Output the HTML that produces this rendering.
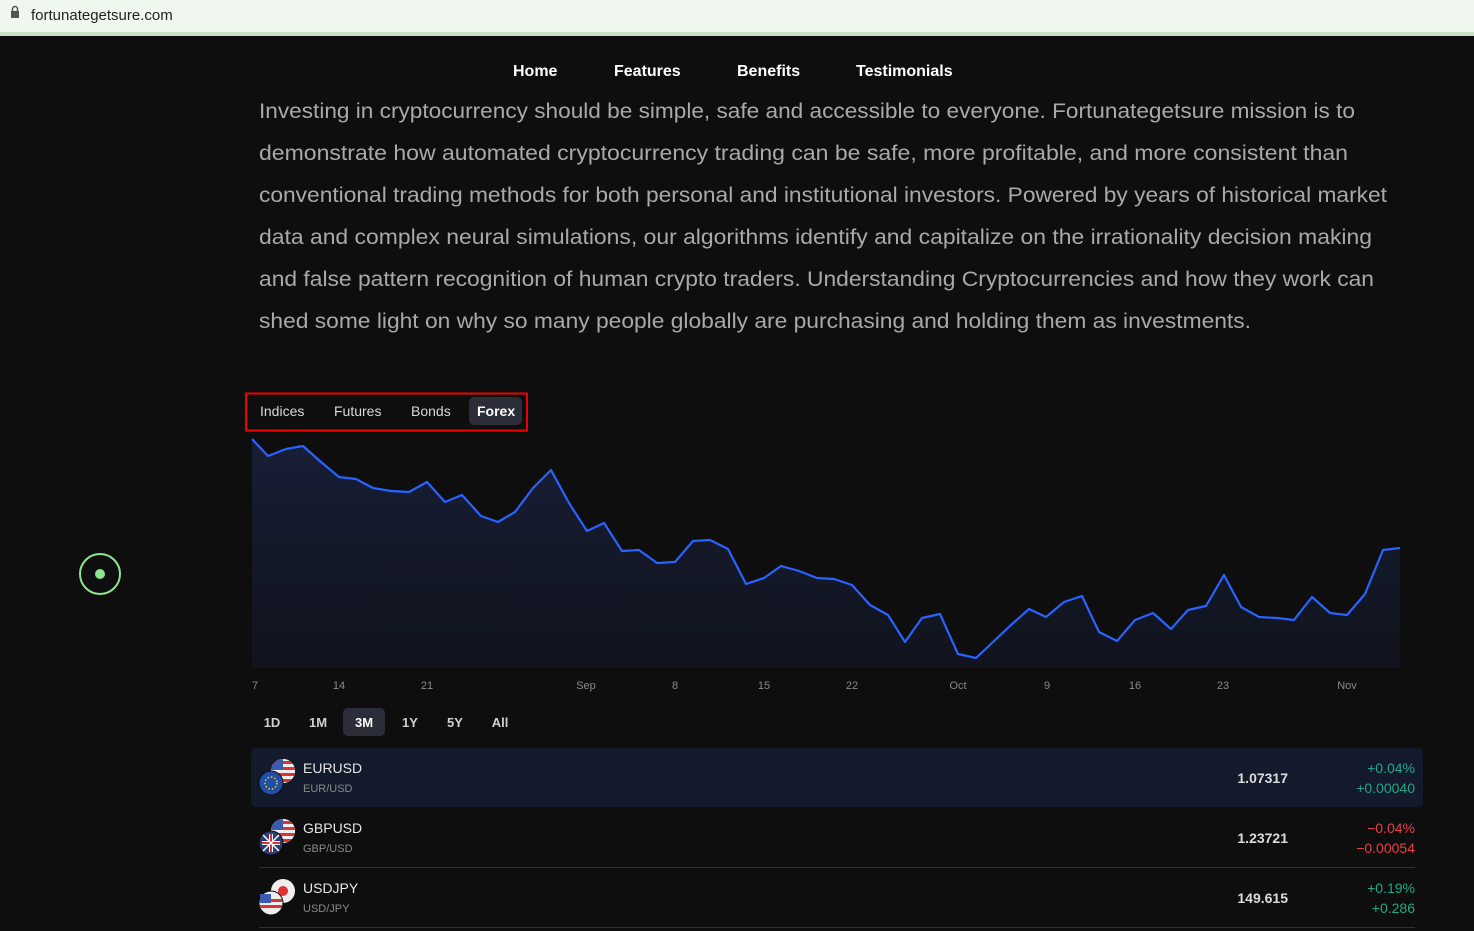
<!DOCTYPE html>
<html><head><meta charset="utf-8"><style>
html,body{margin:0;padding:0;background:#0e0e0e;width:1474px;height:931px;overflow:hidden}
svg{display:block}
</style></head><body>
<svg width="1474" height="931" xmlns="http://www.w3.org/2000/svg" font-family="Liberation Sans, sans-serif">
<defs>
<linearGradient id="g" x1="0" y1="0" x2="0" y2="1"><stop offset="0" stop-color="#1a2342" stop-opacity="0.8"/><stop offset="1" stop-color="#141a2c" stop-opacity="0.5"/></linearGradient>
<clipPath id="c1"><circle cx="283" cy="771" r="12"/></clipPath>
</defs>
<rect width="1474" height="931" fill="#0e0e0e"/>
<rect width="1474" height="33" fill="#f0f7ef"/>
<rect y="32" width="1474" height="4" fill="#c6e4c4"/>
<rect x="11" y="11" width="8" height="7" fill="#555"/><path d="M12.5 11v-2a2.5 2.5 0 0 1 5 0v2" stroke="#555" stroke-width="1.5" fill="none"/>
<text x="31" y="20" font-size="15" fill="#222">fortunategetsure.com</text>
<g font-size="16" font-weight="bold" fill="#fff">
<text x="513" y="76">Home</text><text x="614" y="76">Features</text><text x="737" y="76">Benefits</text><text x="856" y="76">Testimonials</text></g>
<g font-size="21" fill="#a9a9a9">
<text x="259" y="118" textLength="1096" lengthAdjust="spacingAndGlyphs">Investing in cryptocurrency should be simple, safe and accessible to everyone. Fortunategetsure  mission is to</text>
<text x="259" y="160" textLength="1089" lengthAdjust="spacingAndGlyphs">demonstrate how automated cryptocurrency trading can be safe, more profitable, and more consistent than</text>
<text x="259" y="202" textLength="1128" lengthAdjust="spacingAndGlyphs">conventional trading methods for both personal and institutional investors. Powered by years of historical market</text>
<text x="259" y="244" textLength="1113" lengthAdjust="spacingAndGlyphs">data and complex neural simulations, our algorithms identify and capitalize on the irrationality decision making</text>
<text x="259" y="286" textLength="1115" lengthAdjust="spacingAndGlyphs">and false pattern recognition of human crypto traders. Understanding Cryptocurrencies and how they work can</text>
<text x="259" y="328" textLength="992" lengthAdjust="spacingAndGlyphs">shed some light on why so many people globally are purchasing and holding them as investments.</text>
</g>
<circle cx="100" cy="574" r="20" fill="none" stroke="#8ee68e" stroke-width="2"/><circle cx="100" cy="574" r="5" fill="#8ee68e"/>
<rect x="246" y="393.5" width="281" height="37" fill="none" stroke="#e00" stroke-width="2"/>
<rect x="469" y="397" width="53" height="28" rx="5" fill="#2b2e38"/>
<g font-size="14" fill="#d8d8d8"><text x="260" y="416">Indices</text><text x="334" y="416">Futures</text><text x="411" y="416">Bonds</text></g>
<text x="477" y="416" font-size="14" font-weight="bold" fill="#fff">Forex</text>
<path d="M252,439 L268,456 L286,449 L303,446 L321,462 L339,477 L356,479 L373,488 L391,491 L409,492 L427,482 L445,502 L462,495 L481,516 L498,522 L515,512 L533,488 L551,470 L569,503 L587,531 L604,523 L622,551 L639,550 L657,563 L675,562 L693,541 L710,540 L728,549 L746,584 L764,578 L781,566 L799,571 L817,578 L834,579 L852,585 L870,605 L888,615 L905,642 L922,618 L940,614 L958,654 L976,658 L993,642 L1011,625 L1029,609 L1046,617 L1064,602 L1082,596 L1099,632 L1117,641 L1135,620 L1153,613 L1171,629 L1188,610 L1206,606 L1224,575 L1241,607 L1259,617 L1277,618 L1294,620 L1312,597 L1330,613 L1347,615 L1365,594 L1383,550 L1400,548 L1400,668 L252,668 Z" fill="url(#g)"/>
<path d="M252,439 L268,456 L286,449 L303,446 L321,462 L339,477 L356,479 L373,488 L391,491 L409,492 L427,482 L445,502 L462,495 L481,516 L498,522 L515,512 L533,488 L551,470 L569,503 L587,531 L604,523 L622,551 L639,550 L657,563 L675,562 L693,541 L710,540 L728,549 L746,584 L764,578 L781,566 L799,571 L817,578 L834,579 L852,585 L870,605 L888,615 L905,642 L922,618 L940,614 L958,654 L976,658 L993,642 L1011,625 L1029,609 L1046,617 L1064,602 L1082,596 L1099,632 L1117,641 L1135,620 L1153,613 L1171,629 L1188,610 L1206,606 L1224,575 L1241,607 L1259,617 L1277,618 L1294,620 L1312,597 L1330,613 L1347,615 L1365,594 L1383,550 L1400,548" fill="none" stroke="#2962ff" stroke-width="2.2" stroke-linejoin="round"/>
<g font-size="11" fill="#8a8a8a" text-anchor="middle">
<text x="255" y="689">7</text><text x="339" y="689">14</text><text x="427" y="689">21</text><text x="586" y="689">Sep</text><text x="675" y="689">8</text><text x="764" y="689">15</text><text x="852" y="689">22</text><text x="958" y="689">Oct</text><text x="1047" y="689">9</text><text x="1135" y="689">16</text><text x="1223" y="689">23</text><text x="1347" y="689">Nov</text></g>
<rect x="343" y="708" width="42" height="28" rx="5" fill="#2b2e38"/>
<g font-size="13" font-weight="bold" fill="#d0d0d0" text-anchor="middle">
<text x="272" y="727">1D</text><text x="318" y="727">1M</text><text x="364" y="727" fill="#fff">3M</text><text x="410" y="727">1Y</text><text x="455" y="727">5Y</text><text x="500" y="727">All</text></g>
<rect x="251" y="748" width="1172" height="59" rx="5" fill="#131a2c"/>
<line x1="259" y1="867.5" x2="1415" y2="867.5" stroke="#2e2e36"/>
<line x1="259" y1="927.5" x2="1415" y2="927.5" stroke="#2e2e36"/>
<!-- flags -->
<g>
<circle cx="283" cy="771" r="12" fill="#e8e8e8"/>
<g clip-path="url(#c1)"><rect x="271" y="759" width="24" height="24" fill="#eee"/><rect x="271" y="761" width="24" height="3" fill="#d33"/><rect x="271" y="767" width="24" height="3" fill="#d33"/><rect x="271" y="773" width="24" height="3" fill="#d33"/><rect x="271" y="779" width="24" height="3" fill="#d33"/><rect x="271" y="759" width="12" height="11" fill="#3b5bb0"/></g>
<circle cx="271" cy="783" r="12" fill="#1f4fa8" stroke="#0e0e0e" stroke-width="1"/><circle cx="271" cy="783" r="6" fill="none" stroke="#f5cf2a" stroke-width="1.5" stroke-dasharray="1.5 2"/>
</g>
<g transform="translate(0,60)">
<circle cx="283" cy="771" r="12" fill="#e8e8e8"/>
<g clip-path="url(#c1)"><rect x="271" y="759" width="24" height="24" fill="#eee"/><rect x="271" y="761" width="24" height="3" fill="#d33"/><rect x="271" y="767" width="24" height="3" fill="#d33"/><rect x="271" y="773" width="24" height="3" fill="#d33"/><rect x="271" y="779" width="24" height="3" fill="#d33"/><rect x="271" y="759" width="12" height="11" fill="#3b5bb0"/></g>
<circle cx="271" cy="783" r="12" fill="#2a3d7a" stroke="#0e0e0e"/><path d="M262 783h18M271 774v18" stroke="#fff" stroke-width="4"/><path d="M262 783h18M271 774v18" stroke="#d33" stroke-width="2"/><path d="M263 775l16 16M279 775l-16 16" stroke="#fff" stroke-width="1.5"/>
</g>
<g transform="translate(0,120)">
<circle cx="283" cy="771" r="12" fill="#eee"/><circle cx="283" cy="771" r="5" fill="#d33"/>
<circle cx="271" cy="783" r="12" fill="#eee" stroke="#0e0e0e"/><rect x="260" y="779" width="22" height="3" fill="#d33"/><rect x="260" y="785" width="22" height="3" fill="#d33"/><rect x="260" y="774" width="11" height="9" fill="#3b5bb0"/>
</g>
<g font-size="14" fill="#e6e6e6"><text x="303" y="773">EURUSD</text><text x="303" y="833">GBPUSD</text><text x="303" y="893">USDJPY</text></g>
<g font-size="11" fill="#8a8a8a"><text x="303" y="792">EUR/USD</text><text x="303" y="852">GBP/USD</text><text x="303" y="912">USD/JPY</text></g>
<g font-size="14" font-weight="bold" fill="#dcdcdc" text-anchor="end"><text x="1288" y="783">1.07317</text><text x="1288" y="843">1.23721</text><text x="1288" y="903">149.615</text></g>
<g font-size="14" text-anchor="end">
<text x="1415" y="773" fill="#1fa888">+0.04%</text><text x="1415" y="793" fill="#1fa888">+0.00040</text>
<text x="1415" y="833" fill="#e8404a">−0.04%</text><text x="1415" y="853" fill="#e8404a">−0.00054</text>
<text x="1415" y="893" fill="#1fa888">+0.19%</text><text x="1415" y="913" fill="#1fa888">+0.286</text></g>
</svg>
</body></html>
